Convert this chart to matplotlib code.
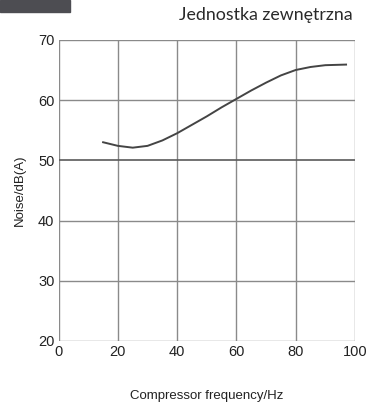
import matplotlib.pyplot as plt
from matplotlib.patches import Rectangle

# curve
freq = [15, 20, 25, 30, 35, 40, 45, 50, 55, 60, 65, 70, 75, 80, 85, 90, 97]
noise = [53.0, 52.4, 52.1, 52.4, 53.3, 54.5, 55.9, 57.3, 58.8, 60.2, 61.6, 62.9, 64.1, 65.0, 65.5, 65.8, 65.9]
xticks = [0, 20, 40, 60, 80, 100]
yticks = [20, 30, 40, 50, 60, 70]

fig = plt.figure(figsize=(3.76, 4.03), dpi=100)
ax = fig.add_axes([0.156, 0.154, 0.788, 0.747])

fig.patches.append(Rectangle((0, 0.97), 0.186, 0.03, transform=fig.transFigure,
                             color='#4d4d52', zorder=0))
fig.text(0.937, 0.962, 'Jednostka zewnętrzna', ha='right', va='center',
         fontsize=12.8, family='Lato', color='#2a2a2a')

for x in xticks:
    ax.axvline(x, color='#8a8a8a', lw=1.0, zorder=1)
for y in yticks:
    ax.axhline(y, color='#5a5a5a' if y == 50 else '#8a8a8a', lw=1.2 if y == 50 else 1.0, zorder=1)

ax.plot(freq, noise, color='#444444', lw=1.4, zorder=3)

ax.set_xlim(0, 100)
ax.set_ylim(20, 70)
ax.set_xticks(xticks)
ax.set_yticks(yticks)
ax.tick_params(length=0, labelsize=10.5, colors='#222222', pad=3)
for lab in ax.get_xticklabels() + ax.get_yticklabels():
    lab.set_family('Liberation Sans')
for s in ax.spines.values():
    s.set_visible(False)

ax.set_xlabel('Compressor frequency/Hz', family='Liberation Sans', fontsize=9.5,
              color='#222222', labelpad=22)
ax.set_ylabel('Noise/dB(A)', family='Liberation Sans', fontsize=9.5,
              color='#222222', labelpad=9)

fig.savefig('out.png', dpi=100)
